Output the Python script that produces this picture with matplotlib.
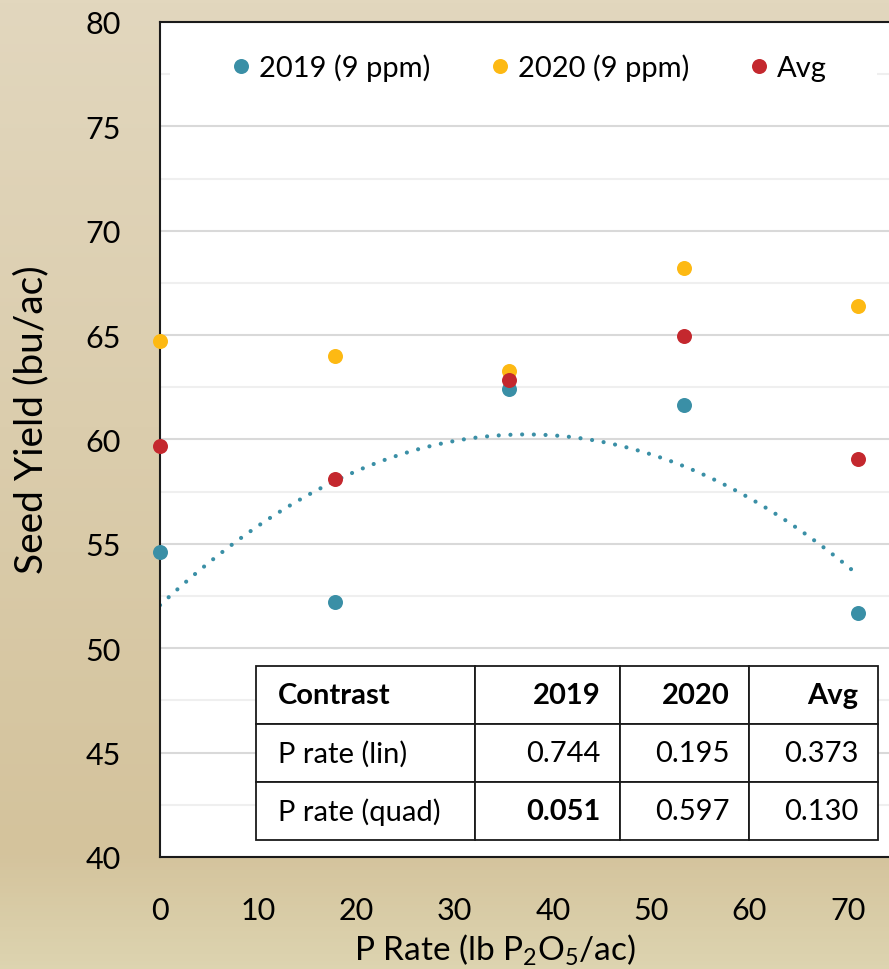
import numpy as np
import matplotlib.pyplot as plt
from matplotlib.colors import LinearSegmentedColormap
from matplotlib.patches import Rectangle

# P rates (lb P2O5/ac) and seed yields (bu/ac)
p_rate = [0, 17.8, 35.5, 53.3, 71.0]
yield_2019 = [54.6, 52.2, 62.4, 61.65, 51.7]
yield_2020 = [64.7, 64.0, 63.3, 68.2, 66.4]
yield_avg = [59.7, 58.1, 62.85, 64.95, 59.07]

series_labels = ["2019 (9 ppm)", "2020 (9 ppm)", "Avg"]

table_header = ["Contrast", "2019", "2020", "Avg"]
table_rows = [
    ["P rate (lin)", "0.744", "0.195", "0.373"],
    ["P rate (quad)", "0.051", "0.597", "0.130"],
]

TEAL = "#3a8fa6"
GOLD = "#fdb913"
RED = "#c4282e"

plt.rcParams["font.family"] = ["Lato", "DejaVu Sans"]
plt.rcParams["mathtext.fontset"] = "custom"
plt.rcParams["mathtext.rm"] = "Lato"


def main() -> None:
    fig = plt.figure(figsize=(8.89, 9.70), dpi=100)

    # beige gradient background
    bg = fig.add_axes([0, 0, 1, 1], zorder=-10)
    cmap = LinearSegmentedColormap.from_list(
        "bg", [(0, "#e2d7be"), (0.88, "#d4c39c"), (1, "#ddd4b0")])
    bg.imshow(np.linspace(0, 1, 256).reshape(-1, 1), aspect="auto",
              cmap=cmap, extent=[0, 1, 0, 1])
    bg.axis("off")

    ax = fig.add_axes([0.18, 0.1155, 0.82, 0.8608])
    ax.set_facecolor("white")
    ax.set_xlim(0, 74.2)
    ax.set_ylim(40, 80)
    ax.set_xticks(range(0, 71, 10))
    ax.set_yticks(range(40, 81, 5))
    ax.set_yticks(np.arange(42.5, 80, 5), minor=True)
    ax.tick_params(axis="both", which="both", length=0, labelsize=22)
    ax.tick_params(axis="y", pad=28)
    ax.tick_params(axis="x", pad=28)
    ax.grid(axis="y", which="major", color="#d9d9d9", lw=1.5)
    ax.grid(axis="y", which="minor", color="#efefef", lw=1.5)
    ax.set_axisbelow(True)
    for side in ["left", "bottom", "top"]:
        ax.spines[side].set_color("#1a1a1a")
        ax.spines[side].set_linewidth(1.5)
    ax.spines["right"].set_visible(False)

    # quadratic trend of the 2019 data
    coef = np.polyfit(p_rate, yield_2019, 2)
    xs = np.linspace(p_rate[0], p_rate[-1], 300)
    ax.plot(xs, np.polyval(coef, xs), color=TEAL, lw=3.0, ls=(0, (0.01, 2.8)),
            dash_capstyle="round", zorder=2)

    for ys, col, lab in zip([yield_2019, yield_2020, yield_avg],
                            [TEAL, GOLD, RED], series_labels):
        ax.plot(p_rate, ys, "o", color=col, ms=10.8, mew=0, label=lab,
                zorder=3, clip_on=False)

    # white band behind the legend
    ax.add_patch(Rectangle((0.0137, 0.908), 0.97, 0.072, transform=ax.transAxes,
                           facecolor="white", edgecolor="none", zorder=1))
    ax.legend(loc="center", bbox_to_anchor=(0.505, 0.946), ncol=3,
              fontsize=21, frameon=False, handletextpad=0.2,
              columnspacing=2.0, handlelength=0.8, borderpad=0.2)

    ax.set_ylabel("Seed Yield (bu/ac)", fontsize=28)
    ax.yaxis.set_label_coords(-0.152, 0.525)
    ax.set_xlabel(r"P Rate (lb P$_\mathregular{2}$O$_\mathregular{5}$/ac)",
                  fontsize=24)
    ax.xaxis.set_label_coords((495 - 160) / 729, -0.089)

    # contrast p-value table
    cells = [table_header] + table_rows
    tbl = ax.table(cellText=cells, cellLoc="right",
                   colWidths=[0.352, 0.233, 0.207, 0.207],
                   bbox=[0.1317, 0.0204, 0.8533, 0.2083], zorder=5)
    tbl.auto_set_font_size(False)
    tbl.set_fontsize(21)
    pads = [0.10, 0.138, 0.155, 0.155]
    for (r, c), cell in tbl.get_celld().items():
        cell.set_edgecolor("#1a1a1a")
        cell.set_linewidth(1.3)
        cell.set_facecolor("white")
        cell.PAD = pads[c]
        if c == 0:
            cell.get_text().set_ha("left")
        if r == 0 or (r == 2 and c == 1):
            cell.get_text().set_fontweight("bold")

    fig.savefig("out.png", dpi=100)
    plt.close(fig)


if __name__ == "__main__":
    main()
